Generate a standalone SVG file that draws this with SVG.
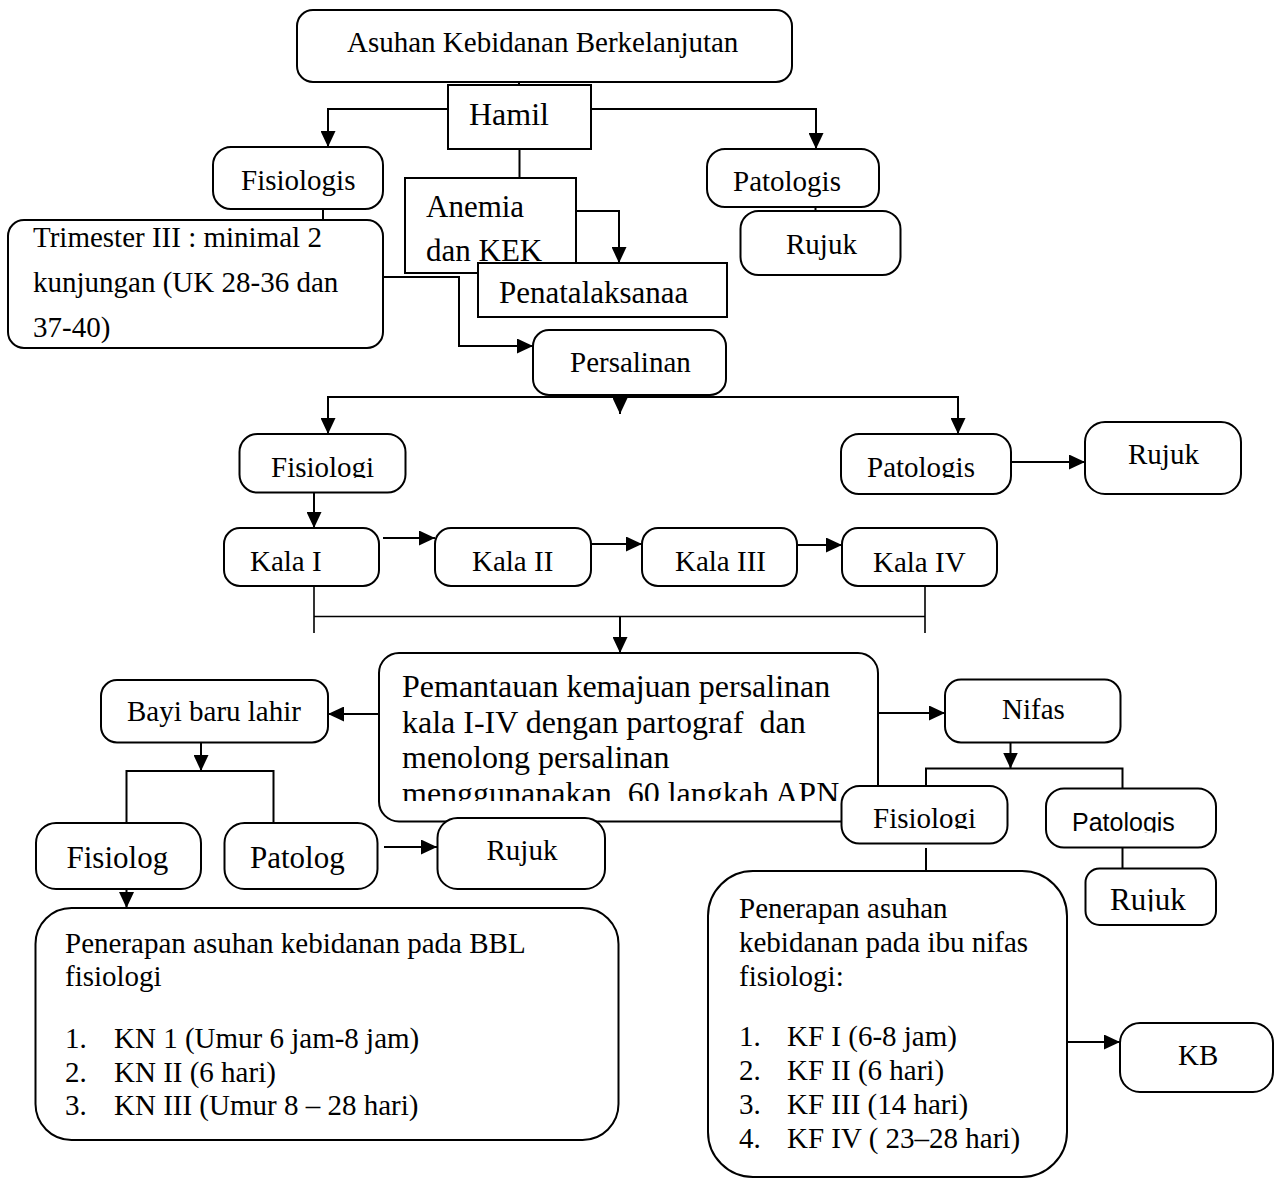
<svg xmlns="http://www.w3.org/2000/svg" width="1275" height="1179" viewBox="0 0 1275 1179">
<style>
.b{fill:#fff;stroke:#000;stroke-width:2}
.t{font-family:"Liberation Serif","Times New Roman",serif;font-size:29px;fill:#000;white-space:pre}
.c{fill:none;stroke:#000;stroke-width:2}
.s{font-family:"Liberation Sans",Arial,sans-serif;font-size:25px;fill:#000}
</style>
<defs>
<marker id="ah" markerWidth="16" markerHeight="15" refX="16" refY="7.5" orient="auto" markerUnits="userSpaceOnUse"><path d="M0,0 L16,7.5 L0,15 z" fill="#000"/></marker>
<clipPath id="cFm"><rect x="240" y="430" width="170" height="48"/></clipPath>
<clipPath id="cPm"><rect x="840" y="430" width="170" height="48"/></clipPath>
<clipPath id="cPem"><rect x="380" y="650" width="500" height="151"/></clipPath>
<clipPath id="cFn"><rect x="842" y="786" width="165" height="43"/></clipPath>
<clipPath id="cPn"><rect x="1046" y="789" width="170" height="43.5"/></clipPath>
<clipPath id="cRn"><rect x="1086" y="869" width="130" height="42.5"/></clipPath>
</defs>
<rect width="1275" height="1179" fill="#fff"/>
<g id="connectors">
<path class="c" d="M519,82 V85"/>
<path class="c" d="M448,109 H328 V147" marker-end="url(#ah)"/>
<path class="c" d="M591,109 H816 V149" marker-end="url(#ah)"/>
<path class="c" d="M519.5,149 V178"/>
<path class="c" d="M323,193 V220"/>
<path class="c" d="M576,211 H619 V263" marker-end="url(#ah)"/>
<path class="c" d="M383,277 H459 V346 H533" marker-end="url(#ah)"/>
<path class="c" d="M815.5,190 V211"/>
<path class="c" d="M620,397 H328 V434" marker-end="url(#ah)"/>
<path class="c" d="M620,397 H958 V434" marker-end="url(#ah)"/>
<path class="c" d="M620,377 V414" marker-end="url(#ah)"/>
<path class="c" d="M314,477 V528" marker-end="url(#ah)"/>
<path class="c" d="M383,538 H435" marker-end="url(#ah)"/>
<path class="c" d="M591,544 H642" marker-end="url(#ah)"/>
<path class="c" d="M798,545 H842" marker-end="url(#ah)"/>
<path class="c" d="M1011,462 H1085" marker-end="url(#ah)"/>
<path class="c" d="M314,570 V633 M925,568 V633 M314,616.5 H925" style="stroke-width:1.6"/>
<path class="c" d="M620,616.5 V653" marker-end="url(#ah)"/>
<path class="c" d="M379,714 H328" marker-end="url(#ah)"/>
<path class="c" d="M879,713 H945" marker-end="url(#ah)"/>
<path class="c" d="M201,727 V771" marker-end="url(#ah)"/>
<path class="c" d="M126.5,823 V771 H273.5 V823"/>
<path class="c" d="M384,847 H437" marker-end="url(#ah)"/>
<path class="c" d="M126.5,868 V908" marker-end="url(#ah)"/>
<path class="c" d="M1010.5,733 V768.5" marker-end="url(#ah)"/>
<path class="c" d="M926,786 V768.5 H1122.5 V788"/>
<path class="c" d="M926,848 V871"/>
<path class="c" d="M1122.5,847 V868"/>
<path class="c" d="M1067,1042 H1120" marker-end="url(#ah)"/>
</g>
<g id="n-top"><rect class="b" x="297" y="10" width="495" height="72" rx="16"/><text class="t" x="347" y="52">Asuhan Kebidanan Berkelanjutan</text></g>
<g id="n-hamil"><rect class="b" x="448" y="85" width="143" height="64"/><text class="t" x="469" y="125" style="font-size:32px">Hamil</text></g>
<g id="n-fisiologis"><rect class="b" x="213" y="147" width="170" height="62" rx="18"/><text class="t" x="241" y="190">Fisiologis</text></g>
<g id="n-patologis1"><rect class="b" x="707" y="149" width="172" height="58" rx="18"/><text class="t" x="733" y="191">Patologis</text></g>
<g id="n-rujuk1"><rect class="b" x="740.5" y="211" width="160" height="64" rx="18"/><text class="t" x="786" y="254">Rujuk</text></g>
<g id="n-trimester"><rect class="b" x="8" y="220" width="375" height="128" rx="16"/><text class="t" x="33" y="247">Trimester III : minimal 2</text><text class="t" x="33" y="292">kunjungan (UK 28-36 dan</text><text class="t" x="33" y="337">37-40)</text></g>
<g id="n-anemia"><rect class="b" x="405" y="178" width="171" height="95"/><text class="t" x="426" y="217" style="font-size:31px">Anemia</text><text class="t" x="426" y="261" style="font-size:31px">dan KEK</text></g>
<g id="n-penatalaksanaa"><rect class="b" x="478" y="263" width="249" height="54"/><text class="t" x="499" y="303" style="font-size:31px">Penatalaksanaa</text></g>
<g id="n-persalinan"><rect class="b" x="533" y="330" width="193" height="65" rx="16"/><text class="t" x="570" y="372">Persalinan</text></g>
<g id="n-fisiologi2"><rect class="b" x="239.5" y="434" width="166" height="58.5" rx="18"/><text class="t" x="271" y="477" clip-path="url(#cFm)">Fisiologi</text></g>
<g id="n-patologis2"><rect class="b" x="841" y="434" width="170" height="60" rx="18"/><text class="t" x="867" y="477" clip-path="url(#cPm)">Patologis</text></g>
<g id="n-rujuk2"><rect class="b" x="1085" y="422" width="156" height="72" rx="20"/><text class="t" x="1128" y="464">Rujuk</text></g>
<g id="n-kala1"><rect class="b" x="224" y="528" width="155" height="58" rx="16"/><text class="t" x="250" y="571">Kala I</text></g>
<g id="n-kala2"><rect class="b" x="435" y="528" width="156" height="58" rx="16"/><text class="t" x="472" y="571">Kala II</text></g>
<g id="n-kala3"><rect class="b" x="642" y="528" width="155" height="58" rx="16"/><text class="t" x="675" y="571">Kala III</text></g>
<g id="n-kala4"><rect class="b" x="842" y="528" width="155" height="58" rx="16"/><text class="t" x="873" y="572">Kala IV</text></g>
<g id="n-pemantauan"><rect class="b" x="379" y="653" width="499" height="168.5" rx="20"/><g clip-path="url(#cPem)" class="t" style="font-size:32px"><text x="402" y="697">Pemantauan kemajuan persalinan</text><text x="402" y="732.5" xml:space="preserve">kala I-IV dengan partograf  dan</text><text x="402" y="768">menolong persalinan</text><text x="402" y="804" xml:space="preserve">menggunanakan  60 langkah APN</text></g></g>
<g id="n-bayi"><rect class="b" x="101" y="680" width="227" height="62.5" rx="16"/><text class="t" x="127" y="721">Bayi baru lahir</text></g>
<g id="n-nifas"><rect class="b" x="945" y="679.5" width="175.5" height="63" rx="16"/><text class="t" x="1002" y="719">Nifas</text></g>
<g id="n-fisiolog3"><rect class="b" x="36" y="823" width="165" height="66" rx="20"/><text class="t" x="66.5" y="868" style="font-size:31px">Fisiolog</text></g>
<g id="n-patolog3"><rect class="b" x="224.5" y="823" width="153" height="66" rx="20"/><text class="t" x="250" y="868" style="font-size:31px">Patolog</text></g>
<g id="n-rujuk3"><rect class="b" x="437.5" y="818" width="167.5" height="71" rx="20"/><text class="t" x="486.5" y="860">Rujuk</text></g>
<g id="n-fisiologi4"><rect class="b" x="841.5" y="786" width="166" height="57.5" rx="18"/><text class="t" x="873" y="828" clip-path="url(#cFn)">Fisiologi</text></g>
<g id="n-patologis4"><rect class="b" x="1046" y="788.5" width="170" height="59" rx="18"/><text class="s" x="1072" y="831" clip-path="url(#cPn)">Patologis</text></g>
<g id="n-rujuk4"><rect class="b" x="1085.5" y="868.5" width="130.5" height="56.5" rx="14"/><text class="t" x="1110" y="910" style="font-size:31px" clip-path="url(#cRn)">Rujuk</text></g>
<g id="n-bbl"><rect class="b" x="35.5" y="908" width="583" height="232" rx="36"/><text class="t" x="65" y="953">Penerapan asuhan kebidanan pada BBL</text><text class="t" x="65" y="986">fisiologi</text><text class="t" x="65" y="1048">1.</text><text class="t" x="114" y="1048">KN 1 (Umur 6 jam-8 jam)</text><text class="t" x="65" y="1082">2.</text><text class="t" x="114" y="1082">KN II (6 hari)</text><text class="t" x="65" y="1115">3.</text><text class="t" x="114" y="1115">KN III (Umur 8 – 28 hari)</text></g>
<g id="n-penerapan-nifas"><rect class="b" x="708" y="871" width="359" height="306" rx="45"/><text class="t" x="739" y="918">Penerapan asuhan</text><text class="t" x="739" y="952">kebidanan pada ibu nifas</text><text class="t" x="739" y="986">fisiologi:</text><text class="t" x="739" y="1046">1.</text><text class="t" x="787" y="1046">KF I (6-8 jam)</text><text class="t" x="739" y="1080">2.</text><text class="t" x="787" y="1080">KF II (6 hari)</text><text class="t" x="739" y="1114">3.</text><text class="t" x="787" y="1114">KF III (14 hari)</text><text class="t" x="739" y="1148">4.</text><text class="t" x="787" y="1148">KF IV ( 23–28 hari)</text></g>
<g id="n-kb"><rect class="b" x="1120" y="1023" width="153" height="69" rx="20"/><text class="t" x="1178" y="1065">KB</text></g>
</svg>
